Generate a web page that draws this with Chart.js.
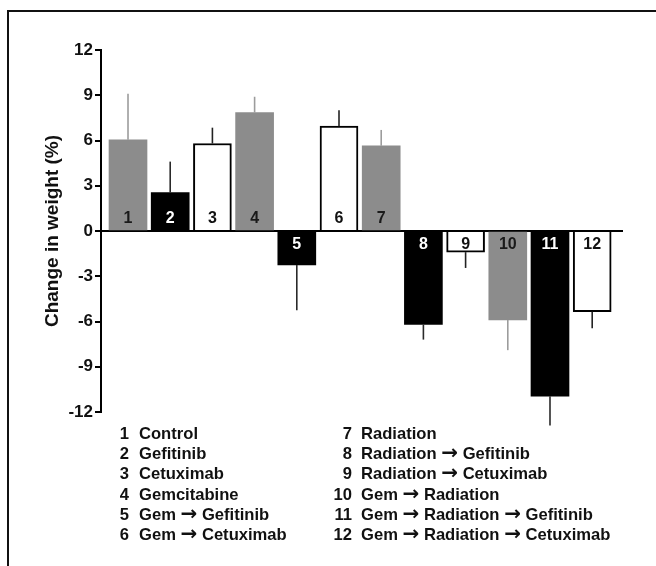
<!DOCTYPE html>
<html>
<head>
<meta charset="utf-8">
<script src="https://cdn.jsdelivr.net/npm/chart.js@4.4.1/dist/chart.umd.min.js"></script>
<style>
  html, body { margin: 0; padding: 0; background: #fff; }
  #wrap { position: relative; width: 656px; height: 566px; overflow: hidden; }
  #frame { position: absolute; left: 7px; top: 10px; width: 700px; height: 600px; border-top: 2px solid #111; border-left: 2px solid #111; }
  #chart { position: absolute; left: 0; top: 0; }
  .leg { position: absolute; font: bold 16.6px Arial, "Liberation Sans", sans-serif; line-height: 20.2px; color: #111; white-space: nowrap; }
  .arr { font-family: "DejaVu Sans", sans-serif; font-size: 20px; line-height: 10px; }
</style>
</head>
<body>
<div id="wrap">
  <div id="frame"></div>
  <canvas id="chart" width="656" height="566"></canvas>
  <div id="legend"></div>
</div>
<script>
// ── Data ─────────────────────────────────
const groups = [
  'Control', 'Gefitinib', 'Cetuximab', 'Gemcitabine',
  'Gem \u2192 Gefitinib', 'Gem \u2192 Cetuximab', 'Radiation',
  'Radiation \u2192 Gefitinib', 'Radiation \u2192 Cetuximab',
  'Gem \u2192 Radiation', 'Gem \u2192 Radiation \u2192 Gefitinib',
  'Gem \u2192 Radiation \u2192 Cetuximab'
];
const groupNumbers = ['1', '2', '3', '4', '5', '6', '7', '8', '9', '10', '11', '12'];
const weightChange = [6.05, 2.55, 5.8, 7.85, -2.25, 6.95, 5.65, -6.2, -1.4, -5.9, -10.95, -5.35];
const weightError = [3.05, 2.05, 1.05, 1.05, 3.0, 1.05, 1.05, 1.0, 1.05, 2.0, 1.95, 1.1];
const yTicks = [-12, -9, -6, -3, 0, 3, 6, 9, 12];

// bars cycle gray / black / white
const FILL = ['#8c8c8c', '#000000', '#ffffff'];
const ERR = ['#9c9c9c', '#2a2a2a', '#222222'];
const LBL = ['#1a1a1a', '#ffffff', '#111111'];

const FONT = 'Arial, "Liberation Sans", sans-serif';
Chart.defaults.font.family = FONT;

// error bars (one-sided, away from zero)
const errorBars = {
  id: 'errorBars',
  afterDatasetsDraw(chart) {
    const ctx = chart.ctx, ys = chart.scales.y;
    chart.getDatasetMeta(0).data.forEach((bar, i) => {
      const v = weightChange[i];
      const end = v + Math.sign(v) * weightError[i];
      ctx.save();
      ctx.strokeStyle = ERR[i % 3];
      ctx.lineWidth = 1.6;
      ctx.beginPath();
      ctx.moveTo(bar.x, bar.y);
      ctx.lineTo(bar.x, ys.getPixelForValue(end));
      ctx.stroke();
      ctx.restore();
    });
  }
};

// numbers inside the bars next to the zero line
const barNumbers = {
  id: 'barNumbers',
  afterDatasetsDraw(chart) {
    const ctx = chart.ctx, zero = chart.scales.y.getPixelForValue(0);
    ctx.save();
    ctx.font = 'bold 16px ' + FONT;
    ctx.textAlign = 'center';
    ctx.textBaseline = 'middle';
    chart.getDatasetMeta(0).data.forEach((bar, i) => {
      ctx.fillStyle = LBL[i % 3];
      const y = weightChange[i] >= 0 ? zero - 12.5 : zero + 14;
      ctx.fillText(groupNumbers[i], bar.x, y);
    });
    ctx.restore();
  }
};

new Chart(document.getElementById('chart'), {
  type: 'bar',
  data: {
    datasets: [{
      data: weightChange.map((v, i) => ({ x: i + 1, y: v })),
      backgroundColor: weightChange.map((v, i) => FILL[i % 3]),
      borderColor: '#000',
      borderWidth: weightChange.map((v, i) => (i % 3 === 2 ? 2 : 0)),
      barThickness: 38
    }]
  },
  options: {
    responsive: false,
    animation: false,
    layout: { padding: { left: 0, top: 50, right: 33, bottom: 154 } },
    plugins: { legend: { display: false }, tooltip: { enabled: false } },
    scales: {
      x: { type: 'linear', min: 0.36, max: 12.73, offset: false, display: false },
      y: {
        min: -12, max: 12,
        afterFit: s => { s.width = 101; },
        afterBuildTicks: s => { s.ticks = yTicks.map(v => ({ value: v })); },
        border: { display: true, color: '#000', width: 2 },
        grid: {
          drawOnChartArea: true,
          color: c => (c.tick && c.tick.value === 0 ? '#000' : 'rgba(0,0,0,0)'),
          lineWidth: 2,
          tickColor: '#000',
          tickLength: 6,
          tickWidth: 2
        },
        ticks: { color: '#111', padding: 2, font: { size: 17, weight: 'bold' } },
        title: {
          display: true,
          text: 'Change in weight (%)',
          color: '#111',
          font: { size: 19, weight: 'bold' },
          padding: { top: 41, bottom: 0 }
        }
      }
    }
  },
  plugins: [errorBars, barNumbers]
});

// ── Legend (two columns of six) ─────────────────────────────────
const legend = document.getElementById('legend');
const rowTop = 424, rowStep = 20.2;
const cols = [{ numRight: 129, textLeft: 139 }, { numRight: 352, textLeft: 361 }];
groups.forEach((name, i) => {
  const col = cols[Math.floor(i / 6)], r = i % 6;
  const top = rowTop + r * rowStep;
  const n = document.createElement('div');
  n.className = 'leg';
  n.style.top = top + 'px';
  n.style.right = (656 - col.numRight) + 'px';
  n.textContent = groupNumbers[i];
  const t = document.createElement('div');
  t.className = 'leg';
  t.style.top = top + 'px';
  t.style.left = col.textLeft + 'px';
  name.split(' \u2192 ').forEach((part, k) => {
    if (k > 0) {
      t.appendChild(document.createTextNode(' '));
      const a = document.createElement('span');
      a.className = 'arr';
      a.textContent = '\u2192';
      t.appendChild(a);
      t.appendChild(document.createTextNode(' '));
    }
    t.appendChild(document.createTextNode(part));
  });
  legend.appendChild(n);
  legend.appendChild(t);
});
</script>
</body>
</html>
